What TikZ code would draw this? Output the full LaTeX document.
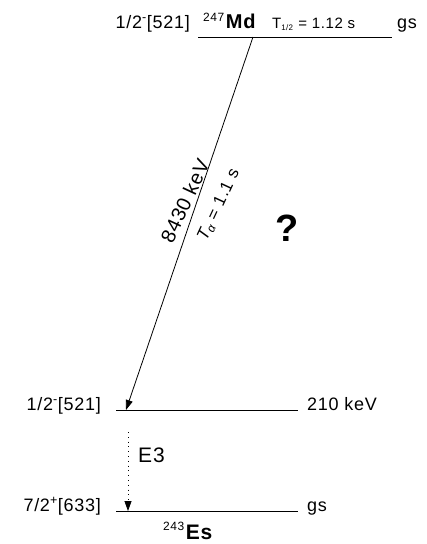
\documentclass[tikz,border=0pt]{standalone}
\usepackage{fontspec}
\setmainfont{Liberation Sans}[LetterSpace=4]
\usetikzlibrary{arrows.meta,positioning,calc}

\begin{document}
\begin{tikzpicture}[x=1pt,y=-1pt,
  level/.style={line width=1pt},
  lbl/.style={font=\fontsize{18}{20}\selectfont, inner sep=0pt},
  decay/.style={-{Triangle[length=10pt,width=7pt]}, line width=0.8pt},
  gamma/.style={-{Triangle[length=10pt,width=7pt]}, line width=0.8pt, dash pattern=on 0.8pt off 4pt}]
\useasboundingbox (0,0) rectangle (427,544);
% levels
\coordinate (mdL) at (198,37); \coordinate (mdR) at (392,37);
\coordinate (exL) at (116,410); \coordinate (exR) at (298,410);
\coordinate (gsL) at (116,511); \coordinate (gsR) at (298,511);
\draw[level] (mdL) -- (mdR);
\draw[level] (exL) -- (exR);
\draw[level] (gsL) -- (gsR);
% mother
\node[lbl, anchor=base east] (mdspin) at ($(mdL)+(-8,-9)$) {1/2\textsuperscript{-}[521]};
\node[lbl, anchor=base west] (mdgs) at ($(mdR)+(5,-9)$) {gs};
\node[inner sep=0pt, anchor=base west] (md) at ($(mdL)+(5,-9)$)
  {\raisebox{7pt}{\fontsize{12}{12}\selectfont 247}\,\fontsize{20}{22}\selectfont\bfseries Md};
\node[inner sep=0pt, anchor=base west, font=\fontsize{15}{17}\selectfont] (mdhalf) at ($(mdL)+(74,-9)$)
  {T\textsubscript{\fontsize{8}{8}\selectfont 1/2} = 1.12 s};
% daughter
\node[lbl, anchor=base east] (exspin) at ($(exL)+(-15,0)$) {1/2\textsuperscript{-}[521]};
\node[lbl, anchor=base west] (exE) at ($(exR)+(9,0)$) {210 keV};
\node[lbl, anchor=base east] (gsspin) at ($(gsL)+(-15,0)$) {7/2\textsuperscript{+}[633]};
\node[lbl, anchor=base west] (gsgs) at ($(gsR)+(9,0)$) {gs};
\node[inner sep=0pt, anchor=base west] (es) at (163,539)
  {\raisebox{9pt}{\fontsize{12}{12}\selectfont 243}\,\fontsize{21}{23}\selectfont\bfseries Es};
% transitions
\coordinate (astart) at (253,37); \coordinate (aend) at (126,410);
\draw[decay] (astart) -- (aend);
\node[rotate=65, inner sep=0pt, font=\fontsize{20}{22}\selectfont] (qa) at (185,201) {8430 keV};
\node[rotate=65, inner sep=0pt, font=\fontsize{17}{19}\selectfont] (ta) at (219,205) {{\itshape T\textsubscript{α}} = 1.1 s};
\coordinate (gstart) at (128,432); \coordinate (gend) at (128,511);
\draw[gamma] (gstart) -- (gend);
\node[inner sep=0pt, anchor=base west, font=\fontsize{21}{23}\selectfont] (e3) at (138,462) {E3};
\node[font=\fontsize{38}{40}\selectfont\bfseries] (unk) at (287,228) {?};
\end{tikzpicture}
\end{document}
